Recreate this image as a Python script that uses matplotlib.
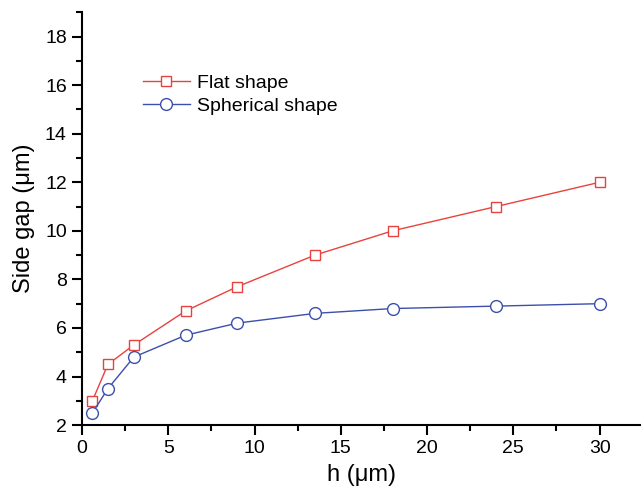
import matplotlib.pyplot as plt

plt.rcParams['font.family'] = ['Liberation Sans', 'DejaVu Sans']

# h in micrometres and the side gap for the two tip shapes
h_um = [0.6, 1.5, 3, 6, 9, 13.5, 18, 24, 30]
gap_flat = [3.0, 4.5, 5.3, 6.7, 7.7, 9.0, 10.0, 11.0, 12.0]
gap_spherical = [2.5, 3.5, 4.8, 5.7, 6.2, 6.6, 6.8, 6.9, 7.0]

x_ticks = [0, 5, 10, 15, 20, 25, 30]
y_ticks = [2, 4, 6, 8, 10, 12, 14, 16, 18]

red = '#e8423f'
blue = '#3b4fab'

fig = plt.figure(figsize=(6.41, 4.92), dpi=100)
ax = fig.add_axes([0.128, 0.136, 0.872, 0.839])

ax.plot(h_um, gap_flat, color=red, lw=1.0, marker='s', ms=7.5,
        mfc='white', mec=red, mew=1.0, label='Flat shape')
ax.plot(h_um, gap_spherical, color=blue, lw=1.0, marker='o', ms=8.5,
        mfc='white', mec=blue, mew=1.0, label='Spherical shape')

ax.set_xlim(0, 32.4)
ax.set_ylim(2, 19)
ax.set_xticks(x_ticks)
ax.set_yticks(y_ticks)
ax.set_xticks([2.5, 7.5, 12.5, 17.5, 22.5, 27.5], minor=True)
ax.set_yticks([3, 5, 7, 9, 11, 13, 15, 17, 19], minor=True)

for side in ('top', 'right'):
    ax.spines[side].set_visible(False)
for side in ('left', 'bottom'):
    ax.spines[side].set_linewidth(1.5)

ax.tick_params(which='major', direction='out', length=7, width=1.5,
               labelsize=14, pad=4)
ax.tick_params(which='minor', direction='out', length=4, width=1.5)

ax.set_xlabel('h (\u03bcm)', fontsize=17, labelpad=5)
ax.set_ylabel('Side gap (\u03bcm)', fontsize=17, labelpad=7)

ax.legend(loc='upper left', bbox_to_anchor=(0.095, 0.869), frameon=False,
          fontsize=14, handlelength=2.4, handletextpad=0.4,
          labelspacing=0.3, borderaxespad=0)

fig.savefig('out.png', dpi=100)
